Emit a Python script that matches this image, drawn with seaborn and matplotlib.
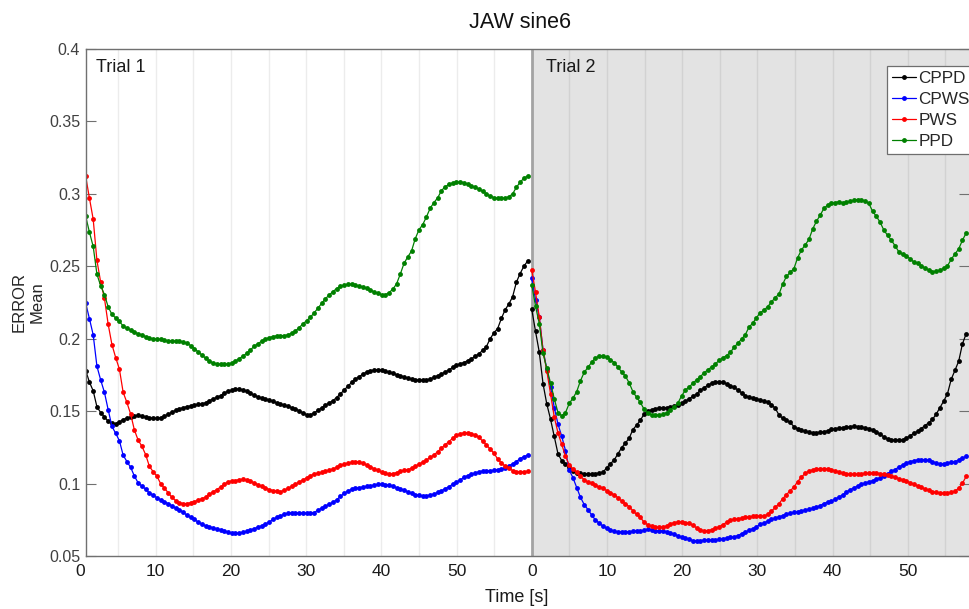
import numpy as np
import pandas as pd
import matplotlib
matplotlib.use("Agg")
import matplotlib.pyplot as plt
from matplotlib.lines import Line2D
import seaborn as sns

# ---- mean error per sample, trial 1 (119 samples) ----
cppd_trial1 = [
    .178, .170, .164, .153, .149, .146, .143, .1418, .1414, .1425,
    .1442, .1452, .146, .1468, .1471, .1465, .1458, .1455, .1451, .145,
    .1456, .1467, .1477, .1493, .1505, .1515, .1524, .1531, .1536, .1541,
    .1546, .155, .1558, .1572, .1584, .1595, .1607, .1625, .1638, .1645,
    .1652, .1652, .1647, .1636, .1622, .161, .1598, .159, .1585, .1576,
    .1567, .1558, .1549, .1541, .1533, .1524, .1515, .1502, .1488, .1476,
    .1475, .1488, .1505, .1523, .154, .1557, .1572, .1594, .1619, .1645,
    .1672, .1698, .1721, .1738, .1755, .177, .1779, .1783, .1786, .1783,
    .1777, .1768, .176, .1752, .1745, .1736, .1727, .1721, .1716, .1714,
    .1714, .1716, .1722, .1733, .1745, .1757, .177, .1785, .1802, .1817,
    .1827, .1835, .1849, .1862, .1878, .1896, .192, .1946, .200, .204,
    .207, .214, .220, .224, .229, .239, .245, .250, .2536,
]
cpws_trial1 = [
    .2245, .2138, .2027, .181, .1715, .163, .151, .1395, .1347, .1296,
    .1196, .1152, .1112, .1052, .1005, .0983, .0962, .0935, .0918, .0903,
    .0888, .0874, .0862, .0847, .0831, .0819, .0803, .0782, .0767, .0752,
    .0735, .0719, .0709, .0702, .0694, .0688, .0681, .0673, .0666, .0658,
    .0656, .0659, .0664, .0672, .068, .0689, .0698, .0709, .0721, .0735,
    .0752, .0766, .0777, .0788, .0795, .0799, .08, .0797, .0797, .0795,
    .0794, .08, .0816, .083, .0844, .0857, .087, .0888, .0911, .0932,
    .0949, .096, .0967, .0972, .0976, .098, .0984, .0989, .0994, .0996,
    .0993, .0988, .0982, .0971, .0962, .0953, .0944, .0933, .0924, .0919,
    .0914, .0915, .0921, .0928, .0939, .0951, .0965, .0978, .0996, .101,
    .1025, .1043, .1055, .1064, .1073, .1082, .1087, .1088, .1089, .1092,
    .1096, .1101, .1109, .1122, .1136, .1152, .1172, .1186, .1196,
]
pws_trial1 = [
    .312, .297, .2825, .254, .239, .228, .210, .196, .187, .179,
    .163, .156, .148, .137, .130, .1258, .120, .112, .1082, .1052,
    .1, .0968, .0938, .0905, .0883, .0868, .0862, .0862, .0868, .0876,
    .0885, .0896, .0906, .0925, .0943, .0958, .0976, .0995, .1013, .1018,
    .1021, .1028, .1029, .1024, .1016, .1005, .0993, .098, .0969, .0959,
    .0952, .0947, .0944, .0954, .0967, .098, .0995, .1012, .1024, .104,
    .1055, .1065, .1072, .1077, .1084, .1092, .1101, .1112, .1125, .1134,
    .1141, .1147, .115, .115, .1141, .1128, .1116, .1103, .1091, .108,
    .107, .1065, .1068, .1076, .1084, .1092, .1096, .1105, .1118, .1135,
    .1147, .1163, .118, .1198, .122, .1245, .1268, .129, .1313, .1332,
    .1344, .135, .135, .1345, .1335, .132, .1293, .1267, .1238, .121,
    .117, .1142, .112, .1106, .109, .1083, .1081, .1082, .1085,
]
ppd_trial1 = [
    .2845, .2735, .2637, .2445, .2365, .2305, .222, .2168, .2143, .212,
    .2087, .2071, .2061, .2046, .2035, .2026, .2014, .2004, .2, .1997,
    .1995, .1991, .1986, .1984, .1983, .1983, .1978, .197, .1953, .1932,
    .191, .1888, .1866, .1846, .1833, .1826, .1823, .1822, .1825, .1833,
    .1846, .1863, .188, .19, .1923, .1948, .1966, .1983, .1997, .2008,
    .2015, .202, .2022, .202, .2028, .2038, .2053, .2077, .2102, .2125,
    .2148, .2179, .221, .2244, .2276, .2301, .2325, .2346, .2361, .237,
    .2376, .2376, .2371, .2363, .2356, .2347, .2336, .2324, .2314, .2305,
    .2304, .2318, .2342, .2378, .2446, .252, .2565, .2605, .2691, .2752,
    .2788, .2842, .2902, .294, .2973, .3023, .3049, .3065, .3076, .3081,
    .3082, .3078, .3066, .3054, .3045, .3033, .3017, .3, .2985, .2974,
    .2969, .2968, .2971, .298, .3, .3045, .308, .3108, .3123,
]

# ---- mean error per sample, trial 2 (117 samples) ----
cppd_trial2 = [
    .2202, .205, .1907, .169, .155, .1445, .1325, .1205, .1158, .1136,
    .1112, .109, .1075, .107, .1068, .1065, .1065, .1068, .1073, .1079,
    .1108, .1137, .1163, .1205, .1248, .128, .1313, .1373, .1403, .1438,
    .148, .1499, .151, .1516, .1522, .1524, .1524, .1527, .1535, .1545,
    .1555, .1568, .1585, .1602, .1618, .1644, .1661, .1679, .1692, .1699,
    .1703, .17, .1689, .1677, .1664, .1647, .1627, .1607, .1595, .1589,
    .1584, .1578, .1571, .1561, .1545, .152, .1474, .145, .1437, .1422,
    .1393, .1378, .1368, .1361, .1353, .1351, .1351, .1354, .1357, .1365,
    .1374, .1379, .1382, .1385, .1389, .1393, .1396, .1393, .1389, .1384,
    .138, .1368, .1355, .1341, .1323, .1308, .1302, .13, .13, .1302,
    .1314, .133, .1347, .136, .138, .14, .142, .1443, .148, .1525,
    .157, .162, .172, .1782, .1845, .1965, .2035,
]
cpws_trial2 = [
    .2416, .227, .2147, .1925, .179, .167, .1525, .141, .1326, .1228,
    .1093, .104, .0972, .0905, .0855, .082, .0783, .0748, .0727, .0706,
    .0691, .068, .0671, .0667, .0667, .0667, .0667, .0672, .0674, .0674,
    .0677, .0683, .0681, .0675, .0674, .0672, .0665, .0659, .065, .064,
    .063, .0625, .0614, .0607, .0605, .0606, .061, .061, .061, .0612,
    .0614, .0619, .0624, .0628, .0632, .0641, .0654, .0665, .0678, .0688,
    .0702, .0718, .0729, .074, .0752, .0762, .077, .0779, .0788, .0796,
    .0801, .0806, .0811, .0818, .0823, .0829, .0836, .0848, .0862, .0872,
    .0878, .0893, .0906, .0922, .0942, .0957, .097, .0983, .0994, .1004,
    .1012, .102, .1029, .104, .1051, .1067, .1084, .1097, .1114, .1128,
    .1141, .1152, .1158, .1163, .1166, .1165, .116, .1152, .1142, .1134,
    .1135, .1141, .1146, .1152, .1162, .1175, .1189,
]
pws_trial2 = [
    .2474, .232, .215, .192, .178, .162, .146, .135, .127, .119,
    .1127, .110, .1078, .105, .1027, .101, .1002, .0987, .0976, .0966,
    .0952, .0935, .0923, .0902, .088, .086, .0841, .0812, .0787, .0767,
    .0732, .0715, .0704, .0699, .0697, .0699, .0708, .0722, .073, .0735,
    .0736, .0731, .0725, .0712, .0695, .068, .0674, .0676, .0681, .069,
    .0701, .0717, .0732, .0746, .0752, .0757, .0762, .0766, .077, .0773,
    .0775, .0775, .0775, .0788, .081, .0835, .0861, .0895, .0924, .095,
    .0976, .1014, .1045, .107, .1087, .1095, .11, .1104, .1104, .1101,
    .1097, .1088, .1081, .1073, .1067, .1065, .1065, .1065, .1068, .107,
    .107, .1073, .1072, .1069, .1065, .106, .1052, .1043, .1035, .1026,
    .1017, .1007, .0994, .0985, .0973, .0963, .0954, .0945, .0939, .0935,
    .0932, .0935, .094, .0948, .0968, .1002, .105,
]
ppd_trial2 = [
    .237, .2225, .2105, .19, .1795, .1695, .1585, .149, .1468, .149,
    .1553, .159, .1635, .171, .1768, .1802, .1838, .1867, .188, .188,
    .1873, .1856, .1835, .1805, .177, .1742, .1695, .1635, .1595, .156,
    .1512, .1487, .1475, .1472, .1472, .1477, .149, .151, .1527, .1555,
    .1605, .1645, .1666, .1692, .1716, .1739, .1763, .1786, .1804, .1825,
    .185, .1868, .1883, .1905, .194, .1968, .1997, .2027, .208, .2107,
    .2145, .218, .2196, .2222, .2253, .2284, .2307, .2377, .243, .2458,
    .2484, .256, .2612, .2647, .2685, .2757, .281, .2852, .29, .2922,
    .2935, .294, .2946, .2939, .2942, .2948, .2957, .2961, .296, .2949,
    .2934, .288, .2845, .2805, .275, .2714, .268, .2642, .26, .2582,
    .257, .2553, .253, .2522, .2505, .2487, .2474, .2464, .2465, .2473,
    .2486, .2503, .2548, .2585, .262, .268, .273,
]

series_names = ["CPPD", "CPWS", "PWS", "PPD"]
series_colors = ["#000000", "#0000ff", "#ff0000", "#008000"]
x_tick_values = [10, 20, 30, 40, 50, 60, 70, 80, 90, 100, 110]
x_tick_labels = ["10", "20", "30", "40", "50", "0", "10", "20", "30", "40", "50"]
y_tick_values = [0.05, 0.1, 0.15, 0.2, 0.25, 0.3, 0.35, 0.4]
y_tick_labels = ["0.05", "0.1", "0.15", "0.2", "0.25", "0.3", "0.35", "0.4"]

# sample clock: both trials share the same step; trial 2 starts at 60 s
sample_step = 0.498
time_trial1 = 0.68 + sample_step * np.arange(len(cppd_trial1))
time_trial2 = 60.0 + sample_step * np.arange(len(cppd_trial2))

frames = []
for name, v1, v2 in zip(series_names,
                        [cppd_trial1, cpws_trial1, pws_trial1, ppd_trial1],
                        [cppd_trial2, cpws_trial2, pws_trial2, ppd_trial2]):
    frames.append(pd.DataFrame({"time": time_trial1, "error": v1,
                                "series": name, "trial": 1}))
    frames.append(pd.DataFrame({"time": time_trial2, "error": v2,
                                "series": name, "trial": 2}))
df = pd.concat(frames, ignore_index=True)

sns.set_style("white")
plt.rcParams["font.family"] = ["Liberation Sans", "DejaVu Sans"]

W, H = 969, 609
fig = plt.figure(figsize=(W / 100, H / 100), dpi=100)
ax = fig.add_axes([85.7 / W, (H - 556) / H, (W - 85.7) / W, 507 / H])

# second trial shaded, separated by a darker rule
ax.axvspan(60, 130, color="#e3e3e3", lw=0, zorder=0)
for gx in np.arange(5, 120, 5):
    if gx != 60:
        ax.axvline(gx, color=(0, 0, 0, 0.075), lw=1, zorder=0.5)
ax.axvline(60, color="#a3a3a3", lw=2, zorder=1)

palette = dict(zip(series_names, series_colors))
sns.lineplot(data=df, x="time", y="error", hue="series", units="trial",
             estimator=None, sort=False, hue_order=series_names,
             palette=palette, marker="o", markersize=3.5,
             markeredgewidth=0, linewidth=0.9, legend=False, ax=ax)

ax.set_xlim(0.68, 118.14)
ax.set_ylim(0.05, 0.4)
ax.set_xlabel("")
ax.set_ylabel("")

ax.set_yticks(y_tick_values)
ax.set_yticklabels(y_tick_labels)
ax.set_xticks(x_tick_values)
ax.set_xticklabels(x_tick_labels)
ax.tick_params(axis="y", which="both", direction="in", length=7, width=0.8,
               color="#707070", labelsize=11.5, labelcolor="#404040",
               left=True, right=True, pad=4)
ax.tick_params(axis="x", direction="in", length=0, labelsize=12.5,
               labelcolor="#1a1a1a", pad=6)
ax.annotate("0", xy=(0, 0), xycoords=("data", "axes fraction"),
            xytext=(0, -6), textcoords="offset points", ha="center",
            va="top", fontsize=12.5, color="#1a1a1a", annotation_clip=False)

for side in ["left", "top", "bottom"]:
    ax.spines[side].set_color("#707070")
    ax.spines[side].set_linewidth(1.0)
ax.spines["right"].set_visible(False)

fig.text(520 / W, 1 - 22 / H, "JAW sine6", ha="center", va="center",
         fontsize=15.5, color="#111111")
fig.text(516.5 / W, 1 - 597 / H, "Time [s]", ha="center", va="center",
         fontsize=13, color="#1a1a1a")
fig.text(19 / W, 1 - 302 / H, "ERROR", rotation=90, ha="center",
         va="center", fontsize=12, color="#262626")
fig.text(37.5 / W, 1 - 302 / H, "Mean", rotation=90, ha="center",
         va="center", fontsize=12, color="#262626")
fig.text(96 / W, 1 - 67 / H, "Trial 1", ha="left", va="center",
         fontsize=13, color="#1a1a1a")
fig.text(545.7 / W, 1 - 67 / H, "Trial 2", ha="left", va="center",
         fontsize=13, color="#1a1a1a")

handles = [Line2D([], [], color=c, marker="o", markersize=3.5,
                  markeredgewidth=0, lw=0.9) for c in series_colors]
leg = ax.legend(handles, series_names, loc="upper left",
                bbox_to_anchor=(886.7 / W, 1 - 65.7 / H),
                bbox_transform=fig.transFigure, fontsize=12.3, frameon=True,
                fancybox=False, edgecolor="#6e6e6e", framealpha=1,
                borderpad=0.3, labelspacing=0.36, handlelength=1.4,
                handletextpad=0.15, borderaxespad=0)
leg.get_frame().set_linewidth(0.9)
leg.set_zorder(5)

fig.savefig("out.png", dpi=100)
